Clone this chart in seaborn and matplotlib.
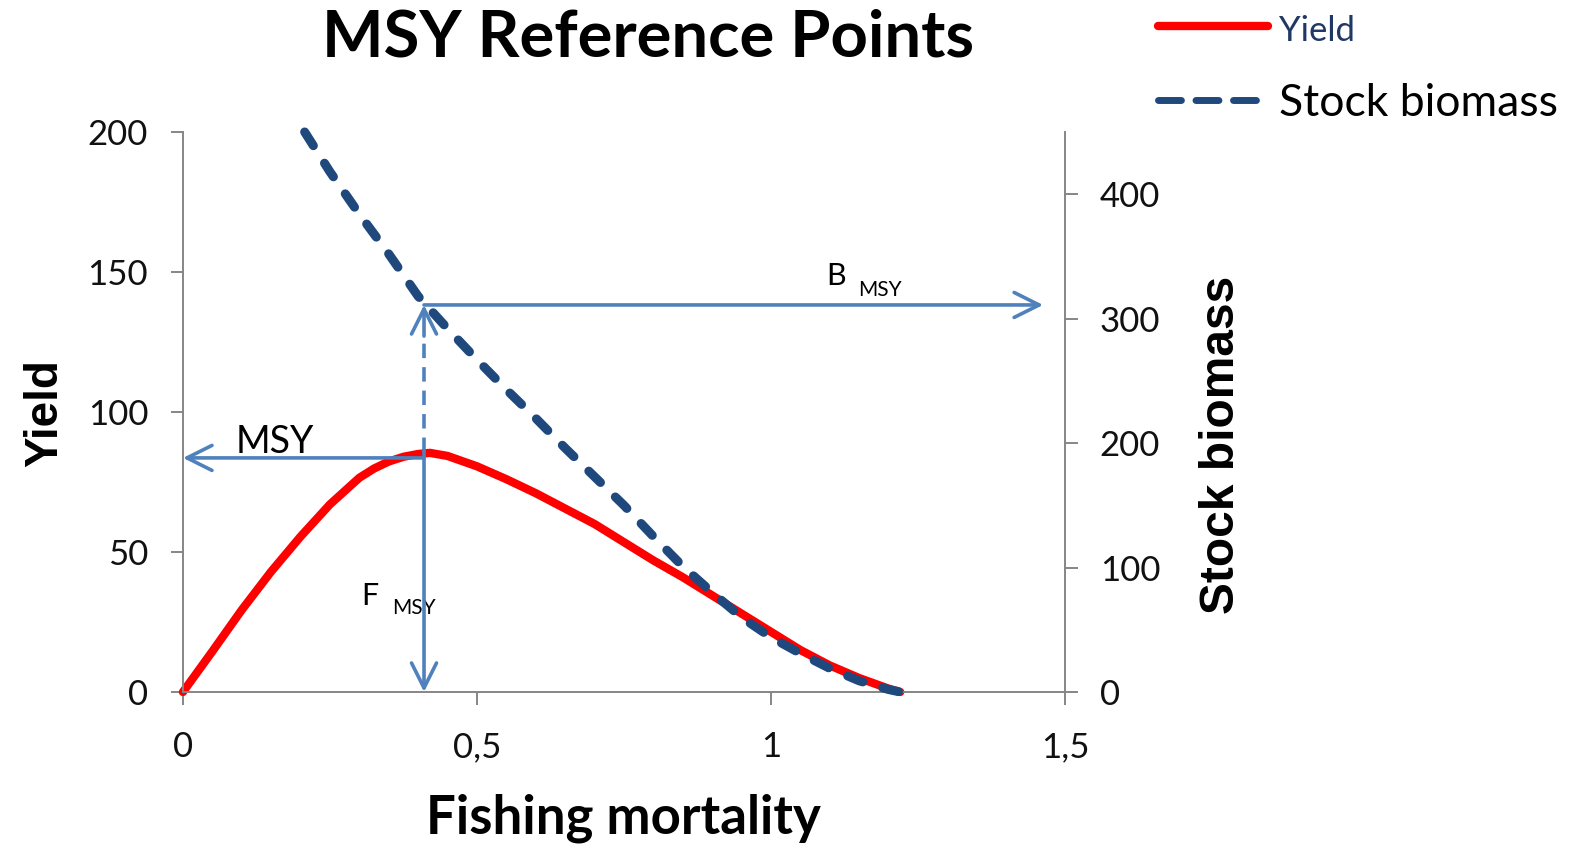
# Puntos de referencia MSY: rendimiento y biomasa contra mortalidad por pesca

import pandas as pd
import matplotlib
matplotlib.use("Agg")
import matplotlib.pyplot as plt
import seaborn as sns
from matplotlib.ticker import FuncFormatter
from matplotlib.lines import Line2D

# Datos
f_yield = [0, 0.05, 0.1, 0.15, 0.2, 0.25, 0.3, 0.325, 0.35, 0.375, 0.4, 0.42,
           0.45, 0.5, 0.55, 0.6, 0.65, 0.7, 0.75, 0.8, 0.85, 0.9, 0.95, 1.0,
           1.05, 1.1, 1.15, 1.2, 1.22]
yield_vals = [0, 14.5, 29.3, 43, 55.5, 67, 76.5, 79.8, 82.3, 84, 85, 85.4,
              84.3, 80.6, 76, 71, 65.5, 60, 53.5, 47, 41, 34.5, 28, 21.5,
              15, 9.5, 5, 1.2, 0]

f_biomass = [0.207, 0.25, 0.3, 0.35, 0.4, 0.45, 0.5, 0.55, 0.6, 0.65, 0.7, 0.75,
             0.8, 0.85, 0.9, 0.95, 1.0, 1.05, 1.1, 1.15, 1.2, 1.22]
biomass_vals = [450, 418, 384, 352, 318, 292, 267, 243, 220, 196, 173, 150,
                125, 101, 80, 60, 44, 31, 19, 9, 2, 0]

# Puntos de referencia (flechas)
f_msy = 0.41
msy = 83.6
b_msy = 311
b_arrow_end = 1.463

x_ticks = [0, 0.5, 1, 1.5]
yield_ticks = [0, 50, 100, 150, 200]
biomass_ticks = [0, 100, 200, 300, 400]

rojo = "#FF0000"
azul_oscuro = "#1F497D"
azul = "#4F81BD"
gris = "#868686"

sns.set_style("white")
plt.rcParams["font.family"] = ["Lato", "DejaVu Sans"]
plt.rcParams["text.color"] = "black"
plt.rcParams["axes.labelcolor"] = "black"

df_y = pd.DataFrame({"F": f_yield, "Yield": yield_vals})
df_b = pd.DataFrame({"F": f_biomass, "Biomass": biomass_vals})

fig = plt.figure(figsize=(15.73, 8.47), dpi=100)
ax = fig.add_axes([0.1163, 0.183, 0.5607, 0.6612])
ax2 = ax.twinx()

sns.lineplot(data=df_y, x="F", y="Yield", ax=ax, color=rojo, lw=6,
             legend=False, clip_on=False, solid_capstyle="round",
             solid_joinstyle="round")
sns.lineplot(data=df_b, x="F", y="Biomass", ax=ax2, color=azul_oscuro, lw=6.5,
             legend=False, clip_on=False, linestyle=(0, (1.8, 2.3)),
             dash_capstyle="round", dash_joinstyle="round")

ax.set_xlim(0, 1.5)
ax.set_ylim(0, 200)
ax2.set_ylim(0, 450)
ax.set_xticks(x_ticks)
ax.set_yticks(yield_ticks)
ax2.set_yticks(biomass_ticks)
ax.xaxis.set_major_formatter(FuncFormatter(lambda v, p: ("%g" % v).replace(".", ",")))

# Ejes y marcas
for a in (ax, ax2):
    for s in a.spines.values():
        s.set_color(gris)
        s.set_linewidth(1.4)
    a.spines["top"].set_visible(False)
ax.spines["right"].set_visible(False)
ax2.spines["left"].set_visible(False)
ax2.spines["bottom"].set_visible(False)

ax.tick_params(axis="x", direction="out", length=9, width=1.4, color=gris,
               pad=19, labelsize=25, labelcolor="#111111", bottom=True)
ax.tick_params(axis="y", direction="out", length=9, width=1.4, color=gris,
               pad=16, labelsize=25, labelcolor="#111111", left=True)
ax2.tick_params(axis="y", direction="out", length=9, width=1.4, color=gris,
                pad=16, labelsize=25, labelcolor="#111111", right=True)

ax.set_xlabel("Fishing mortality", fontsize=38, fontweight="bold", labelpad=22)
ax.set_ylabel("Yield", fontsize=33, fontweight="bold", va="center",
              family="Liberation Sans")
ax.yaxis.set_label_coords(-0.156, 0.498)
ax2.set_ylabel("Stock biomass", fontsize=34.5, fontweight="bold", va="center",
               family="Liberation Sans")
ax2.yaxis.set_label_coords(1.178, 0.441)

fig.text(0.412, 1 - 38 / 847, "MSY Reference Points", fontsize=47,
         fontweight="bold", ha="center", va="center")

# Flechas de referencia
arrow = dict(arrowstyle="->,head_length=0.9,head_width=0.45", color=azul,
             lw=2.6, shrinkA=0, shrinkB=0, mutation_scale=20)
ax2.annotate("", xy=(0, msy), xytext=(f_msy, msy),
             xycoords=ax.transData, textcoords=ax.transData, arrowprops=arrow)
ax2.annotate("", xy=(f_msy, 0), xytext=(f_msy, 85.7),
             xycoords=ax.transData, textcoords=ax.transData, arrowprops=arrow)
ax2.plot([f_msy, f_msy], [85.7 * 2.25, b_msy - 25], color=azul, lw=2.6,
         linestyle=(0, (4, 2.5)))
ax2.annotate("", xy=(f_msy, b_msy), xytext=(f_msy, b_msy - 25),
             arrowprops=arrow)
ax2.annotate("", xy=(b_arrow_end, b_msy), xytext=(f_msy, b_msy),
             arrowprops=arrow)

ax.text(0.156, 85.3, "MSY", fontsize=27, ha="center", va="baseline")
ax.text(0.304, 31, "F", fontsize=22, ha="left", va="baseline")
ax.text(0.355, 27.8, "MSY", fontsize=15, ha="left", va="baseline")
ax.text(1.094, 145.4, "B", fontsize=22, ha="left", va="baseline")
ax.text(1.148, 141.4, "MSY", fontsize=15, ha="left", va="baseline")

# Leyenda fuera del area del grafico
handles = [Line2D([], [], color=rojo, lw=6, solid_capstyle="round"),
           Line2D([], [], color=azul_oscuro, lw=5, linestyle=(0, (3.3, 2.1)),
                  dash_capstyle="round")]
leg = fig.legend(handles, ["Yield", "Stock biomass"], loc="upper left",
                 bbox_to_anchor=(1158 / 1573, 1 - 10 / 847), frameon=False,
                 fontsize=32, handlelength=2.47, handletextpad=0.25,
                 labelspacing=0.8, borderpad=0, borderaxespad=0)
leg.get_texts()[0].set_fontsize(25)
leg.get_texts()[0].set_color("#1F3864")

fig.savefig("out.png", dpi=100)
